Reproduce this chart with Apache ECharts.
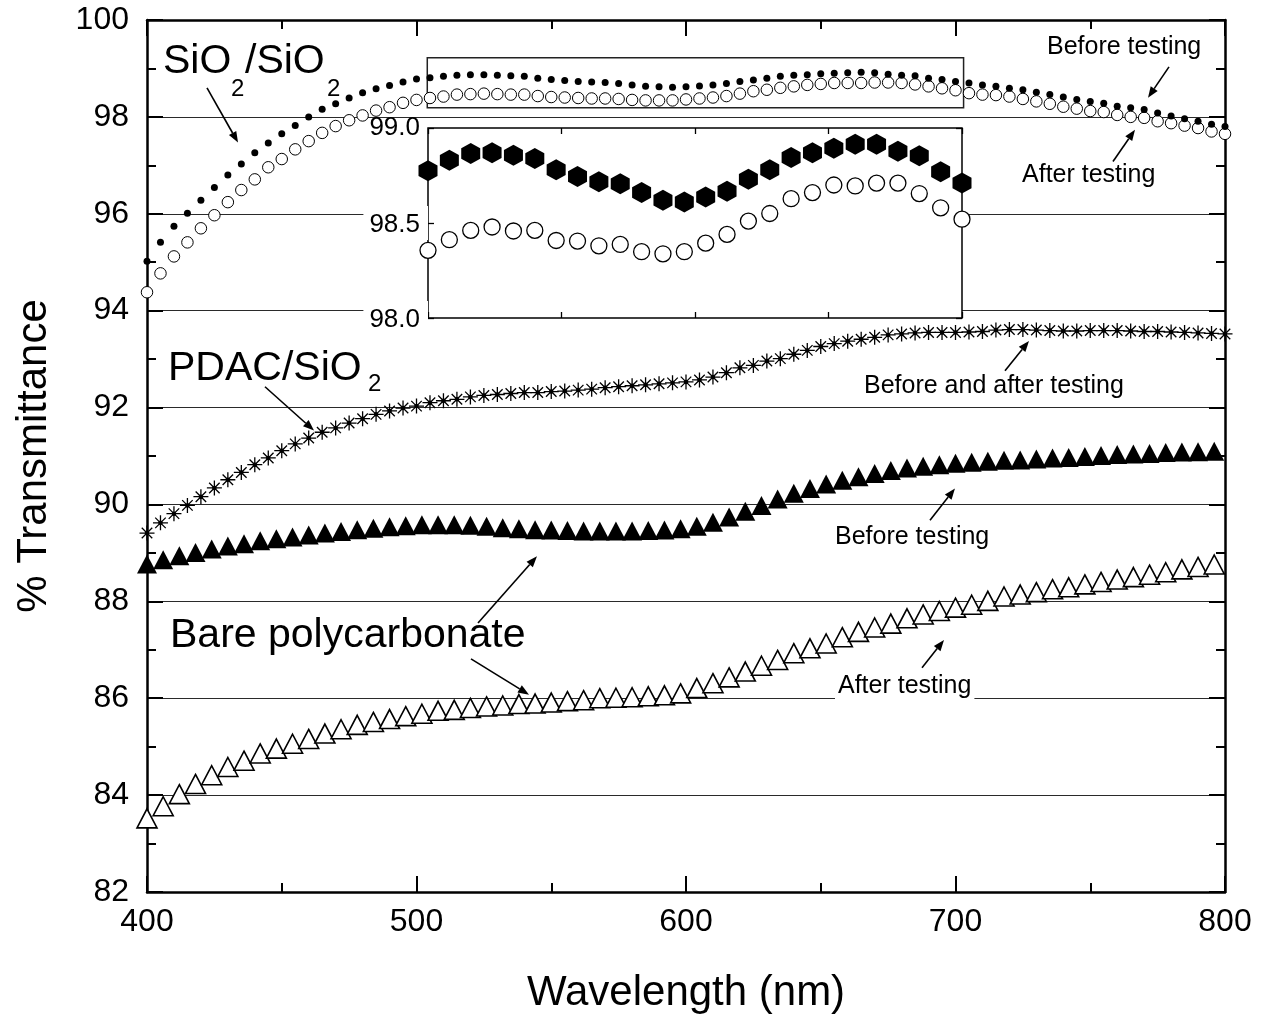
<!DOCTYPE html>
<html><head><meta charset="utf-8">
<script src="https://cdn.jsdelivr.net/npm/echarts@6/dist/echarts.min.js"></script>
<style>html,body{margin:0;padding:0;background:#fff}#c{width:1262px;height:1019px}</style>
</head><body><div id="c"></div>
<script>
// ---------- data ----------
const wl5 = [400,405,410,415,420,425,430,435,440,445,450,455,460,465,470,475,480,485,490,495,500,505,510,515,520,525,530,535,540,545,550,555,560,565,570,575,580,585,590,595,600,605,610,615,620,625,630,635,640,645,650,655,660,665,670,675,680,685,690,695,700,705,710,715,720,725,730,735,740,745,750,755,760,765,770,775,780,785,790,795,800];
const sio2Before = [95.02,95.41,95.74,96.01,96.28,96.54,96.80,97.03,97.26,97.46,97.65,97.82,98.00,98.16,98.27,98.39,98.50,98.58,98.65,98.72,98.78,98.81,98.84,98.86,98.87,98.87,98.86,98.85,98.84,98.80,98.77,98.75,98.73,98.72,98.71,98.69,98.66,98.63,98.62,98.61,98.62,98.64,98.66,98.69,98.73,98.76,98.80,98.84,98.86,98.87,98.89,98.90,98.91,98.92,98.91,98.88,98.86,98.85,98.80,98.77,98.73,98.70,98.66,98.63,98.59,98.56,98.51,98.46,98.41,98.36,98.32,98.28,98.22,98.19,98.15,98.08,98.02,97.96,97.91,97.85,97.80];
const sio2After = [94.38,94.77,95.12,95.41,95.70,95.97,96.24,96.49,96.71,96.96,97.13,97.33,97.50,97.67,97.81,97.93,98.03,98.13,98.20,98.29,98.35,98.39,98.42,98.46,98.47,98.48,98.47,98.46,98.46,98.43,98.41,98.40,98.39,98.38,98.38,98.37,98.35,98.34,98.34,98.34,98.36,98.38,98.40,98.43,98.48,98.53,98.56,98.60,98.63,98.66,98.68,98.70,98.70,98.70,98.71,98.71,98.70,98.67,98.63,98.59,98.55,98.49,98.46,98.45,98.42,98.37,98.32,98.27,98.21,98.17,98.12,98.10,98.04,98.00,97.98,97.91,97.87,97.82,97.77,97.70,97.65];
const pdac = [89.41,89.62,89.81,89.98,90.16,90.34,90.51,90.66,90.82,90.96,91.11,91.25,91.37,91.49,91.58,91.68,91.77,91.86,91.93,91.99,92.03,92.10,92.14,92.17,92.22,92.25,92.27,92.29,92.31,92.31,92.33,92.34,92.36,92.38,92.41,92.43,92.45,92.47,92.49,92.51,92.53,92.57,92.63,92.72,92.82,92.87,92.96,93.01,93.10,93.18,93.26,93.32,93.37,93.41,93.45,93.50,93.52,93.54,93.55,93.55,93.55,93.56,93.57,93.60,93.61,93.61,93.60,93.59,93.58,93.58,93.59,93.59,93.59,93.58,93.57,93.57,93.56,93.55,93.54,93.53,93.52];
const wl6 = [400,406,412,418,424,430,436,442,448,454,460,466,472,478,484,490,496,502,508,514,520,526,532,538,544,550,556,562,568,574,580,586,592,598,604,610,616,622,628,634,640,646,652,658,664,670,676,682,688,694,700,706,712,718,724,730,736,742,748,754,760,766,772,778,784,790,796];
const pcBefore = [88.77,88.86,88.94,89.01,89.08,89.14,89.19,89.25,89.29,89.33,89.37,89.41,89.44,89.48,89.51,89.54,89.56,89.58,89.58,89.58,89.57,89.55,89.52,89.50,89.48,89.47,89.46,89.45,89.45,89.45,89.45,89.46,89.47,89.50,89.55,89.63,89.74,89.86,89.98,90.11,90.23,90.33,90.42,90.50,90.57,90.64,90.70,90.75,90.79,90.82,90.85,90.87,90.89,90.91,90.92,90.94,90.96,90.97,90.99,91.01,91.03,91.04,91.05,91.07,91.08,91.09,91.10];
const pcAfter = [83.52,83.77,84.02,84.23,84.41,84.58,84.71,84.86,84.96,85.06,85.16,85.27,85.36,85.45,85.51,85.57,85.63,85.68,85.74,85.76,85.80,85.83,85.85,85.88,85.89,85.91,85.94,85.96,86.00,86.01,86.02,86.04,86.06,86.10,86.21,86.31,86.43,86.55,86.67,86.79,86.93,87.03,87.13,87.26,87.37,87.46,87.54,87.65,87.73,87.80,87.87,87.93,88.01,88.10,88.14,88.19,88.25,88.29,88.35,88.40,88.45,88.50,88.55,88.60,88.66,88.71,88.76];
const wlInset = [500,508,516,524,532,540,548,556,564,572,580,588,596,604,612,620,628,636,644,652,660,668,676,684,692,700];
const insetBefore = [98.775,98.83,98.866,98.87,98.857,98.84,98.78,98.745,98.717,98.706,98.66,98.62,98.61,98.637,98.667,98.73,98.78,98.845,98.87,98.894,98.914,98.914,98.877,98.854,98.77,98.71];
const insetAfter = [98.356,98.412,98.461,98.479,98.458,98.461,98.408,98.405,98.38,98.387,98.349,98.338,98.349,98.394,98.44,98.51,98.55,98.628,98.66,98.70,98.695,98.71,98.71,98.655,98.58,98.52];
const xTicks = [400,500,600,700,800];
const yTicks = [82,84,86,88,90,92,94,96,98,100];
const zoomBox = [[504,98.19],[703,99.22]];

// ---------- styling ----------
const FF = '"Liberation Sans", Arial, Helvetica, sans-serif';
const HEX = 'path://M5,0L9.33,2.5L9.33,7.5L5,10L0.67,7.5L0.67,2.5Z';
const STAR = 'path://M0,5L10,5M5,0L5,10M1.5,1.5L8.5,8.5M1.5,8.5L8.5,1.5';
const pairs = (xs, ys) => xs.map((x, i) => [x, ys[i]]);

const chart = echarts.init(document.getElementById('c'), null, {renderer: 'canvas'});

function mainX(pos, showLabel, name) {
  return {
    gridIndex: 0, type: 'value', position: pos, min: xTicks[0], max: xTicks[xTicks.length-1],
    interval: xTicks[1]-xTicks[0],
    axisLine: {show: true, onZero: false, lineStyle: {color: '#000', width: 2.5}},
    axisTick: {show: true, inside: true, length: 16, lineStyle: {color: '#000', width: 2}},
    minorTick: {show: true, splitNumber: 2, length: 9, lineStyle: {color: '#000', width: 2}},
    axisLabel: {show: showLabel, fontSize: 32, color: '#000', fontFamily: FF, margin: 14},
    splitLine: {show: false},
    name: name, nameLocation: 'middle', nameGap: 80,
    nameTextStyle: {fontSize: 42, color: '#000', fontFamily: FF}
  };
}
function mainY(pos, showLabel, name, split) {
  return {
    gridIndex: 0, type: 'value', position: pos, min: yTicks[0], max: yTicks[yTicks.length-1],
    interval: yTicks[1]-yTicks[0],
    axisLine: {show: true, onZero: false, lineStyle: {color: '#000', width: 2.5}},
    axisTick: {show: true, inside: true, length: 16, lineStyle: {color: '#000', width: 2}},
    minorTick: {show: true, splitNumber: 2, length: 9, lineStyle: {color: '#000', width: 2}},
    axisLabel: {show: showLabel, fontSize: 32, color: '#000', fontFamily: FF, margin: 18},
    splitLine: {show: split, lineStyle: {color: '#2a2a2a', width: 1.2}},
    name: name, nameLocation: 'middle', nameGap: 92, nameRotate: 90,
    nameTextStyle: {fontSize: 42, color: '#000', fontFamily: FF}
  };
}
function insetX(pos) {
  return {
    gridIndex: 1, type: 'value', position: pos, min: 500, max: 700, interval: 50, z: 5,
    axisLine: {show: false},
    axisTick: {show: true, inside: true, length: 6, lineStyle: {color: '#000', width: 1.3}},
    axisLabel: {show: false}, splitLine: {show: false}
  };
}
function insetY(pos, showLabel) {
  return {
    gridIndex: 1, type: 'value', position: pos, min: 98, max: 99, interval: 0.5, z: 5,
    axisLine: {show: false},
    axisTick: {show: true, inside: true, length: 6, lineStyle: {color: '#000', width: 1.3}},
    axisLabel: {
      show: showLabel, margin: 0,
      formatter: v => (v >= 99 ? '{t|' : '{b|') + v.toFixed(1) + '}',
      rich: {
        t: {fontSize: 26, color: '#000', fontFamily: FF, lineHeight: 22, padding: [0, 8, 0, 6]},
        b: {fontSize: 26, color: '#000', fontFamily: FF, lineHeight: 22, padding: [6, 8, 2, 6], backgroundColor: '#fff'}
      }
    },
    splitLine: {show: false}
  };
}

const option = {
  animation: false,
  backgroundColor: '#fff',
  grid: [
    {left: 147, right: 37, top: 20, bottom: 124, show: false},
    {left: 428, top: 128, width: 534, height: 190, show: true, backgroundColor: '#fff',
     borderColor: '#000', borderWidth: 1.5, z: 3}
  ],
  xAxis: [mainX('bottom', true, 'Wavelength (nm)'), mainX('top', false, ''), insetX('bottom'), insetX('top')],
  yAxis: [mainY('left', true, '% Transmittance', true), mainY('right', false, '', false), insetY('left', true), insetY('right', false)],
  series: [
    {type: 'scatter', xAxisIndex: 0, yAxisIndex: 0, data: pairs(wl5, sio2After), symbol: 'circle', symbolSize: 11.5,
     itemStyle: {color: '#fff', borderColor: '#000', borderWidth: 1, opacity: 1}, silent: true},
    {type: 'scatter', xAxisIndex: 0, yAxisIndex: 0, data: pairs(wl5, sio2Before), symbol: 'circle', symbolSize: 7,
     itemStyle: {color: '#000', opacity: 1}, silent: true,
     markArea: {silent: true, itemStyle: {color: 'rgba(0,0,0,0)', borderColor: '#222', borderWidth: 1.5},
       data: [[{coord: zoomBox[0]}, {coord: zoomBox[1]}]]}},
    {type: 'scatter', xAxisIndex: 0, yAxisIndex: 0, data: pairs(wl5, pdac), symbol: STAR, symbolSize: 15,
     itemStyle: {color: 'rgba(0,0,0,0)', borderColor: '#000', borderWidth: 1.3, opacity: 1}, silent: true},
    {type: 'scatter', xAxisIndex: 0, yAxisIndex: 0, data: pairs(wl5, pdac), symbol: 'circle', symbolSize: 4.5,
     itemStyle: {color: '#000', opacity: 1}, silent: true},
    {type: 'scatter', xAxisIndex: 0, yAxisIndex: 0, data: pairs(wl6, pcBefore), symbol: 'triangle', symbolSize: [20, 19],
     itemStyle: {color: '#000', opacity: 1}, silent: true},
    {type: 'scatter', xAxisIndex: 0, yAxisIndex: 0, data: pairs(wl6, pcAfter), symbol: 'triangle', symbolSize: [20, 19],
     itemStyle: {color: '#fff', borderColor: '#000', borderWidth: 1.6, opacity: 1}, silent: true},
    {type: 'scatter', xAxisIndex: 2, yAxisIndex: 2, data: pairs(wlInset, insetBefore), symbol: HEX, symbolSize: [19, 21],
     itemStyle: {color: '#000', opacity: 1}, z: 6, silent: true, clip: false},
    {type: 'scatter', xAxisIndex: 2, yAxisIndex: 2, data: pairs(wlInset, insetAfter), symbol: 'circle', symbolSize: 16,
     itemStyle: {color: '#fff', borderColor: '#000', borderWidth: 1.3, opacity: 1}, z: 6, silent: true, clip: false}
  ]
};
chart.setOption(option);

// ---------- annotations (anchored in data coordinates) ----------
const texts = [
  {t: 'SiO', w: 405.94, v: 99.136, fs: 41},
  {t: '2', w: 431.17, v: 98.560, fs: 24},
  {t: '/SiO', w: 436.36, v: 99.136, fs: 41},
  {t: '2', w: 466.79, v: 98.560, fs: 24},
  {t: 'Before testing', w: 733.95, v: 99.445, fs: 25},
  {t: 'After testing', w: 724.68, v: 96.791, fs: 25},
  {t: 'PDAC/SiO', w: 407.79, v: 92.800, fs: 41},
  {t: '2', w: 482.00, v: 92.471, fs: 24},
  {t: 'Before and after testing', w: 666.05, v: 92.450, fs: 25},
  {t: 'Before testing', w: 655.29, v: 89.323, fs: 25},
  {t: 'Bare polycarbonate', w: 408.53, v: 87.287, fs: 41},
  {t: 'After testing', w: 656.40, v: 86.258, fs: 25, bg: true}
];
const arrows = [
  [422.26, 98.601, 433.77, 97.470],
  [779.22, 99.033, 771.43, 98.395],
  [758.44, 97.079, 766.60, 97.737],
  [443.78, 92.430, 461.97, 91.525],
  [718.37, 92.759, 727.27, 93.376],
  [690.54, 89.673, 699.81, 90.331],
  [522.82, 87.554, 544.71, 88.932],
  [520.22, 86.813, 541.74, 86.073],
  [687.57, 86.628, 695.73, 87.204]
];
const px = (w, v) => chart.convertToPixel({xAxisIndex: 0, yAxisIndex: 0}, [w, v]);
const g = [];
texts.forEach(a => {
  const p = px(a.w, a.v);
  const st = {text: a.t, fontSize: a.fs, fontFamily: FF, fill: '#000', align: 'left', verticalAlign: 'middle'};
  if (a.bg) { st.backgroundColor = '#fff'; st.padding = [2, 3, 5, 3]; }
  g.push({type: 'text', x: p[0] - (a.bg ? 3 : 0), y: p[1], z: 20, silent: true, style: st});
});
arrows.forEach(a => {
  const s = px(a[0], a[1]), e = px(a[2], a[3]);
  const dx = e[0] - s[0], dy = e[1] - s[1], L = Math.hypot(dx, dy);
  const ux = dx / L, uy = dy / L, hl = 11, hw = 4.2;
  const bx = e[0] - ux * hl, by = e[1] - uy * hl;
  g.push({type: 'line', z: 20, silent: true, shape: {x1: s[0], y1: s[1], x2: bx, y2: by},
          style: {stroke: '#000', lineWidth: 1.6}});
  g.push({type: 'polygon', z: 20, silent: true,
          shape: {points: [[e[0], e[1]], [bx - uy * hw, by + ux * hw], [bx + uy * hw, by - ux * hw]]},
          style: {fill: '#000'}});
});
chart.setOption({graphic: g});
</script>
</body></html>
